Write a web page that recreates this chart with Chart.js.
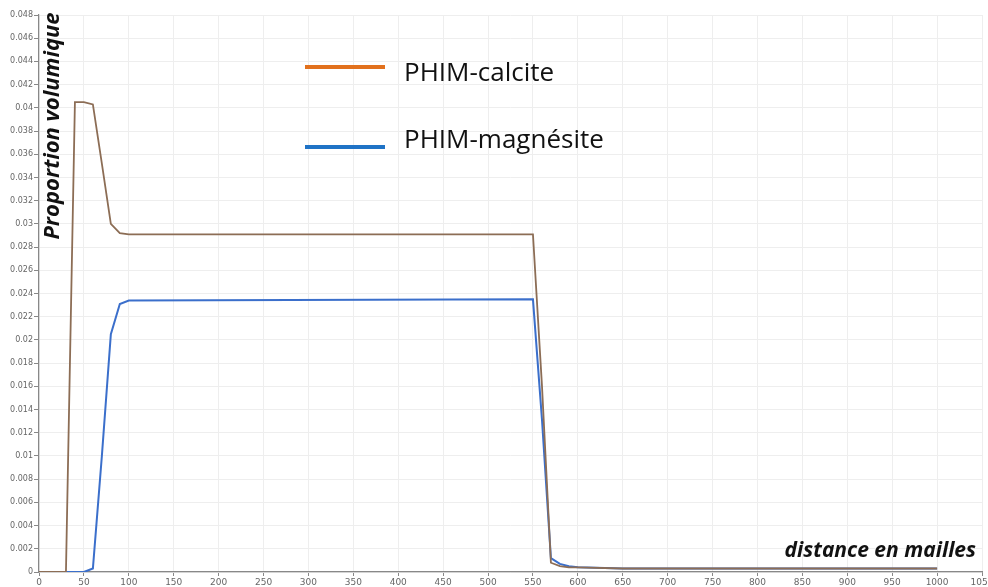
<!DOCTYPE html>
<html>
<head>
<meta charset="utf-8">
<script src="https://cdn.jsdelivr.net/npm/chart.js@4/dist/chart.umd.min.js"></script>
<style>
  html, body { margin: 0; padding: 0; background: #fff; }
  #wrap { width: 988px; height: 587px; position: relative; }
</style>
</head>
<body>
<div id="wrap"><canvas id="c" width="988" height="587"></canvas></div>
<script>
// Distances (mesh cells) and volume fractions for each mineral
const calciteDistance = [0, 30, 40, 50, 60, 70, 80, 90, 100, 550, 560, 570, 580, 590, 600, 650, 700, 800, 900, 1000];
const calciteValues   = [0, 0, 0.0405, 0.0405, 0.0403, 0.0352, 0.0300, 0.0292, 0.0291, 0.0291, 0.0161, 0.0008, 0.0005, 0.0004, 0.0004, 0.0003, 0.0003, 0.0003, 0.0003, 0.0003];

const magnesiteDistance = [0, 50, 60, 70, 80, 90, 100, 550, 560, 570, 580, 590, 600, 650, 700, 800, 900, 1000];
const magnesiteValues   = [0, 0, 0.0003, 0.0100, 0.0205, 0.0231, 0.0234, 0.0235, 0.0132, 0.0012, 0.0007, 0.0005, 0.0004, 0.0003, 0.0003, 0.0003, 0.0003, 0.0003];

const seriesLabels = ['PHIM-calcite', 'PHIM-magnésite'];
const xAxisTitle = 'distance en mailles';
const yAxisTitle = 'Proportion volumique';

const toPoints = (xs, ys) => xs.map((x, i) => ({ x: x, y: ys[i] }));

// Legend block and axis titles drawn over the plot area
const overlayText = {
  id: 'overlayText',
  afterDraw(chart) {
    const ctx = chart.ctx;
    ctx.save();
    // legend
    const rows = [
      { y: 67, ty: 74, color: '#e2711d', text: seriesLabels[0] },
      { y: 147, ty: 141, color: '#1f73c6', text: seriesLabels[1] }
    ];
    rows.forEach(r => {
      ctx.strokeStyle = r.color;
      ctx.lineWidth = 4;
      ctx.beginPath();
      ctx.moveTo(305, r.y);
      ctx.lineTo(385, r.y);
      ctx.stroke();
      ctx.fillStyle = '#111';
      ctx.font = '26px "Open Sans", "Liberation Sans", sans-serif';
      ctx.textAlign = 'left';
      ctx.textBaseline = 'middle';
      ctx.fillText(r.text, 404, r.ty);
    });
    // x title
    ctx.font = 'italic bold 21px "Open Sans", "Liberation Sans", sans-serif';
    ctx.textAlign = 'right';
    ctx.textBaseline = 'middle';
    ctx.fillStyle = '#111';
    ctx.fillText(xAxisTitle, 976, 551);
    // y title
    ctx.font = 'italic bold 22px "Open Sans", "Liberation Sans", sans-serif';
    ctx.translate(53, 126);
    ctx.rotate(-Math.PI / 2);
    ctx.textAlign = 'center';
    ctx.fillText(yAxisTitle, 0, 0);
    ctx.restore();
  }
};

new Chart(document.getElementById('c'), {
  type: 'line',
  data: {
    datasets: [
      {
        label: seriesLabels[0],
        data: toPoints(calciteDistance, calciteValues),
        borderColor: '#8c6d55',
        borderWidth: 1.8,
        pointRadius: 0,
        tension: 0
      },
      {
        label: seriesLabels[1],
        data: toPoints(magnesiteDistance, magnesiteValues),
        borderColor: '#3b6fcb',
        borderWidth: 2,
        pointRadius: 0,
        tension: 0
      }
    ]
  },
  options: {
    responsive: false,
    animation: false,
    events: [],
    layout: { autoPadding: false, padding: { top: 15, right: 6, left: 0, bottom: 0 } },
    plugins: { legend: { display: false }, tooltip: { enabled: false } },
    scales: {
      x: {
        type: 'linear',
        min: 0,
        max: 1050,
        afterFit: s => { s.height = 15; s.paddingRight = 0; s.paddingLeft = 0; },
        ticks: {
          stepSize: 50,
          maxRotation: 0,
          autoSkip: false,
          padding: 1,
          color: '#666',
          font: { size: 9, family: '"DejaVu Sans", sans-serif' },
          callback: v => String(v)
        },
        grid: { color: '#eeeeee', tickColor: '#888', tickLength: 4 },
        border: { color: '#888', width: 1.2 }
      },
      y: {
        min: 0,
        max: 0.048,
        afterFit: s => { s.width = 39; },
        ticks: {
          stepSize: 0.002,
          autoSkip: false,
          padding: 1,
          color: '#666',
          font: { size: 8, family: '"DejaVu Sans", sans-serif' },
          callback: v => String(+v.toFixed(3))
        },
        grid: { color: '#eeeeee', tickColor: '#888', tickLength: 5 },
        border: { color: '#888', width: 1.2 }
      }
    }
  },
  plugins: [overlayText]
});
</script>
</body>
</html>
